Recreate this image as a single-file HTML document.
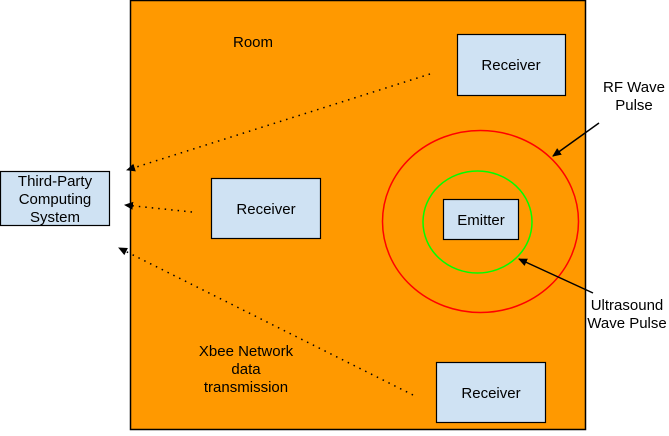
<!DOCTYPE html>
<html><head><meta charset="utf-8"><style>
html,body{margin:0;padding:0;background:#fff;}
svg text{font-family:"Liberation Sans",Arial,sans-serif;font-size:15px;fill:#000;}
</style></head><body>
<svg width="669" height="431" xmlns="http://www.w3.org/2000/svg">
<defs>
<marker id="a" markerWidth="10" markerHeight="10" refX="8" refY="5" orient="auto" markerUnits="userSpaceOnUse">
<path d="M0,1 L9,5 L0,9 z" fill="#000"/></marker>
</defs>
<rect x="130.5" y="0.5" width="455" height="429" fill="#ff9900" stroke="#000" stroke-width="1.5"/>
<rect x="0.5" y="171.5" width="109" height="54" fill="#cfe2f3" stroke="#000" stroke-width="1.2"/>
<rect x="211.5" y="178.5" width="109" height="60" fill="#cfe2f3" stroke="#000" stroke-width="1.2"/>
<rect x="457.5" y="34.5" width="108" height="61" fill="#cfe2f3" stroke="#000" stroke-width="1.2"/>
<rect x="436.5" y="362.5" width="109" height="60" fill="#cfe2f3" stroke="#000" stroke-width="1.2"/>
<ellipse cx="480.5" cy="221.5" rx="98" ry="91" fill="none" stroke="#ff0000" stroke-width="1.5"/>
<ellipse cx="477.5" cy="222" rx="54.5" ry="51" fill="none" stroke="#00ff00" stroke-width="1.5"/>
<rect x="443.5" y="199.5" width="75" height="40" fill="#cfe2f3" stroke="#000" stroke-width="1.2"/>
<g stroke="#000" stroke-width="1.5" stroke-dasharray="1.5,5" fill="none">
<path d="M430,74 L127,170" marker-end="url(#a)"/>
<path d="M192,212 L125,205" marker-end="url(#a)"/>
<path d="M413,395 L119,248" marker-end="url(#a)"/>
</g>
<g stroke="#000" stroke-width="1.5" fill="none">
<path d="M599,123 L553,156" marker-end="url(#a)"/>
<path d="M593,293 L519,259" marker-end="url(#a)"/>
</g>
<text x="253" y="47" text-anchor="middle">Room</text>
<text x="55" y="186" text-anchor="middle">Third-Party</text>
<text x="55" y="204" text-anchor="middle">Computing</text>
<text x="55" y="222" text-anchor="middle">System</text>
<text x="266" y="214" text-anchor="middle">Receiver</text>
<text x="511" y="70" text-anchor="middle">Receiver</text>
<text x="491" y="398" text-anchor="middle">Receiver</text>
<text x="481" y="225" text-anchor="middle">Emitter</text>
<text x="634" y="92" text-anchor="middle">RF Wave</text>
<text x="634" y="110" text-anchor="middle">Pulse</text>
<text x="627" y="310" text-anchor="middle">Ultrasound</text>
<text x="627" y="328" text-anchor="middle">Wave Pulse</text>
<text x="246" y="356" text-anchor="middle">Xbee Network</text>
<text x="246" y="374" text-anchor="middle">data</text>
<text x="246" y="392" text-anchor="middle">transmission</text>
</svg>
</body></html>
